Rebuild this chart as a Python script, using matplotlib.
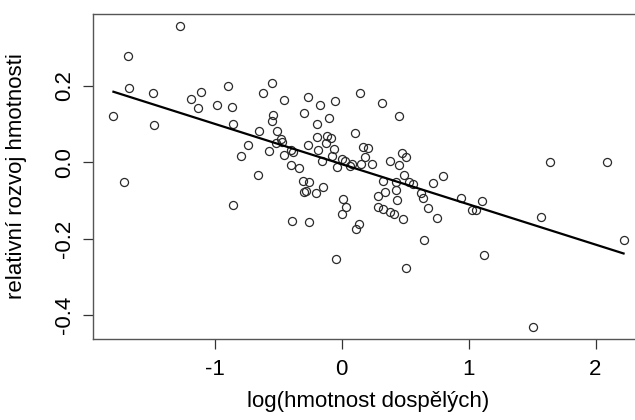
import numpy as np
import matplotlib
matplotlib.use("Agg")
import matplotlib.pyplot as plt

# --- Data ---
log_mass = [
    -1.272, -1.680, -1.672, -1.487, -1.798, -1.475, -1.188, -1.105, -1.133, -0.983,
    -0.897, -0.863, -0.853, -0.735, -0.792, -0.656, -0.621, -0.546, -0.451, -0.543,
    -0.550, -0.648, -0.509, -0.480, -0.519, -0.472, -0.572, -0.456, -0.402, -1.716,
    -0.855, -0.393, -0.265, -0.170, -0.050, 0.143, 0.316, 0.454, -0.298, -0.102,
    -0.196, 0.106, -0.117, -0.086, -0.196, -0.265, -0.123, -0.057, -0.183, 0.166,
    0.210, -0.396, -0.383, 0.473, 0.505, 0.184, -0.073, -0.152, 0.003, 0.027,
    0.084, 0.066, 0.153, 0.239, 0.379, 0.454, -0.034, -0.335, -0.302, -0.254,
    -0.144, -0.283, -0.294, -0.204, 0.328, 0.426, 0.491, 0.533, 0.565, 0.720,
    0.801, 0.344, 0.289, 0.426, 0.623, 0.009, 0.434, 0.643, 0.032, 0.001,
    0.289, 0.328, 0.383, 0.413, 0.683, -0.254, 0.139, 0.113, 0.486, 0.749,
    0.649, -0.046, 0.509, 1.641, 2.090, 2.221, 0.940, 1.103, 1.029, 1.061,
    1.568, 1.119, 1.505,
]
rel_growth = [
    0.356, 0.278, 0.195, 0.180, 0.122, 0.097, 0.165, 0.184, 0.141, 0.150,
    0.200, 0.144, 0.099, 0.046, 0.017, -0.032, 0.182, 0.208, 0.164, 0.123,
    0.108, 0.083, 0.081, 0.060, 0.051, 0.054, 0.030, 0.019, -0.008, -0.052,
    -0.111, -0.153, 0.171, 0.149, 0.159, 0.182, 0.155, 0.122, 0.130, 0.115,
    0.100, 0.076, 0.070, 0.064, 0.065, 0.044, 0.050, 0.036, 0.031, 0.039,
    0.037, 0.032, 0.028, 0.025, 0.014, 0.015, 0.016, 0.004, 0.009, 0.003,
    -0.004, -0.009, -0.004, -0.004, 0.004, -0.007, -0.013, -0.015, -0.048, -0.051,
    -0.065, -0.074, -0.078, -0.080, -0.050, -0.051, -0.033, -0.051, -0.057, -0.055,
    -0.036, -0.077, -0.087, -0.073, -0.081, -0.097, -0.099, -0.094, -0.116, -0.135,
    -0.116, -0.122, -0.129, -0.134, -0.120, -0.155, -0.162, -0.174, -0.147, -0.146,
    -0.204, -0.252, -0.276, 0.002, 0.000, -0.204, -0.094, -0.101, -0.125, -0.125,
    -0.144, -0.243, -0.431,
]
x_ticks = [-1, 0, 1, 2]
y_ticks = [-0.4, -0.2, 0.0, 0.2]
y_ticklabels = ["-0.4", "-0.2", "0.0", "0.2"]

x = np.array(log_mass)
y = np.array(rel_growth)

# --- Fit (lm-style straight line over the data range) ---
slope, intercept = np.polyfit(x, y, 1)
x_line = np.array([x.min(), x.max()])
y_line = intercept + slope * x_line

# --- Plot ---
plt.rcParams['font.family'] = ['Liberation Sans', 'DejaVu Sans']
plt.rcParams['axes.unicode_minus'] = False
fig = plt.figure(figsize=(6.35, 4.2), dpi=100)
ax = fig.add_axes([93 / 635, 1 - 338.5 / 420, 551 / 635, 324.5 / 420])

ax.plot(x, y, 'o', markersize=5.8, markerfacecolor='none',
        markeredgecolor='#2a2a2a', markeredgewidth=0.9)
ax.plot(x_line, y_line, color='black', linewidth=1.6)

ax.set_xlim(-1.959, 2.382)
ax.set_ylim(-0.4607, 0.3877)
ax.set_xticks(x_ticks)
ax.set_yticks(y_ticks)
ax.set_yticklabels(y_ticklabels, rotation=90, va='center')
ax.tick_params(direction='out', length=7, width=0.9, color='#333333',
               labelsize=16, pad=6)
ax.tick_params(axis='x', pad=8)

for s in ax.spines.values():
    s.set_color('#555555')
    s.set_linewidth(1.0)
ax.spines['right'].set_visible(False)

ax.set_xlabel("log(hmotnost dospělých)", fontsize=16, va='center')
ax.set_ylabel("relativní rozvoj hmotnosti", fontsize=16, va='center')
ax.xaxis.set_label_coords(0.5, (338.5 - 402) / 324.5)
ax.yaxis.set_label_coords((16 - 93) / 551, 0.5)

fig.savefig("out.png", dpi=100)
